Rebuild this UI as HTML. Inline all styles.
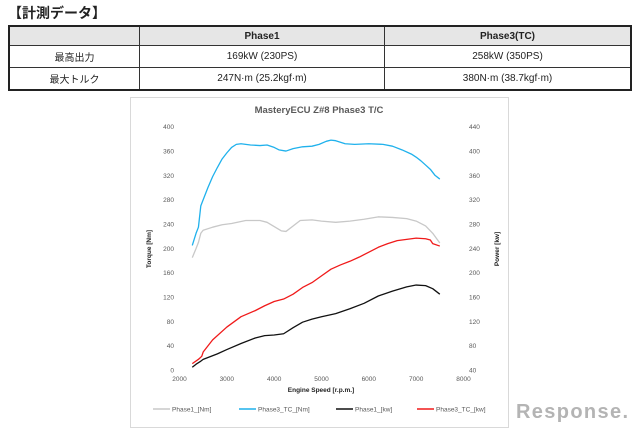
<!DOCTYPE html>
<html><head><meta charset="utf-8"><style>
body{margin:0;width:640px;height:431px;background:#fff;position:relative;overflow:hidden;font-family:"Liberation Sans","Noto Sans CJK JP",sans-serif}
.t{position:absolute;left:8px;top:3px;font-size:14px;font-weight:bold;color:#222}
table{position:absolute;left:8px;top:25px;width:624px;border-collapse:collapse;font-size:10px;color:#222}
td{border:1px solid #333;text-align:center;height:21px;padding:0}
tr.h td{background:#e6e6e6;font-weight:bold;height:18px}
table{border:2px solid #222}
</style></head><body>
<div class="t">【計測データ】</div>
<table>
<tr class="h"><td style="width:129px"></td><td style="width:244px">Phase1</td><td>Phase3(TC)</td></tr>
<tr><td>最高出力</td><td>169kW (230PS)</td><td>258kW (350PS)</td></tr>
<tr><td>最大トルク</td><td>247N·m (25.2kgf·m)</td><td>380N·m (38.7kgf·m)</td></tr>
</table>
<svg width="640" height="431" style="position:absolute;left:0;top:0" font-family="Liberation Sans, sans-serif">
<rect x="130.5" y="97.5" width="378" height="330" fill="#fff" stroke="#d9d9d9"/>
<text x="319" y="113" font-size="9.5" fill="#595959" text-anchor="middle" font-weight="bold">MasteryECU Z#8 Phase3 T/C</text>
<g font-size="6.5" fill="#595959" text-anchor="end">
<text x="174" y="372.5">0</text><text x="174" y="348">40</text><text x="174" y="324">80</text><text x="174" y="299.5">120</text><text x="174" y="275">160</text><text x="174" y="251">200</text><text x="174" y="226.5">240</text><text x="174" y="202">280</text><text x="174" y="178">320</text><text x="174" y="153.5">360</text><text x="174" y="129">400</text>
</g>
<g font-size="6.5" fill="#595959" text-anchor="start">
<text x="469" y="372.5">40</text><text x="469" y="348">80</text><text x="469" y="324">120</text><text x="469" y="299.5">160</text><text x="469" y="275">200</text><text x="469" y="251">240</text><text x="469" y="226.5">280</text><text x="469" y="202">320</text><text x="469" y="178">360</text><text x="469" y="153.5">400</text><text x="469" y="129">440</text>
</g>
<g font-size="6.5" fill="#595959" text-anchor="middle">
<text x="179.5" y="381">2000</text><text x="226.8" y="381">3000</text><text x="274.2" y="381">4000</text><text x="321.5" y="381">5000</text><text x="368.8" y="381">6000</text><text x="416.2" y="381">7000</text><text x="463.5" y="381">8000</text>
</g>
<text x="321" y="392" font-size="6.5" font-weight="bold" fill="#222" text-anchor="middle">Engine Speed [r.p.m.]</text>
<text transform="translate(151,249) rotate(-90)" font-size="6.5" font-weight="bold" fill="#222" text-anchor="middle">Torque [Nm]</text>
<text transform="translate(499,249) rotate(-90)" font-size="6.5" font-weight="bold" fill="#222" text-anchor="middle">Power [kw]</text>
<g transform="translate(179.5,370.3) scale(0.04733,-0.609)" fill="none" stroke-width="1.3" stroke-linejoin="round">
<polyline vector-effect="non-scaling-stroke" stroke="#c8c8c8" points="270,185 350,200 400,210 450,225 500,230 700,235 900,239 1100,241 1400,246 1700,246 1850,243 2000,236 2150,229 2250,228 2400,237 2550,246 2800,247 3000,245 3300,243 3600,245 3900,248 4200,252 4500,251 4800,249 5000,245 5200,237 5350,225 5500,209"/>
<polyline vector-effect="non-scaling-stroke" stroke="#1fb1ec" points="270,205 350,225 400,235 450,270 500,280 600,300 700,318 800,333 900,347 1000,357 1100,366 1200,371 1300,372 1500,370 1700,369 1850,370 2000,366 2100,362 2250,360 2400,364 2600,367 2800,368 2950,371 3100,376 3200,378 3300,377 3500,372 3700,371 4000,372 4300,371 4500,368 4700,362 4900,355 5000,350 5100,344 5200,337 5300,330 5400,320 5500,314"/>
<polyline vector-effect="non-scaling-stroke" stroke="#f01a1a" points="270,11 400,18 470,23 500,30 700,50 1000,71 1300,88 1600,98 1800,106 2000,113 2200,117 2400,125 2600,136 2800,144 3000,155 3200,166 3400,173 3600,179 3800,186 4000,194 4200,202 4400,208 4600,213 4800,215 5000,217 5200,216 5300,214 5350,208 5500,204"/>
<polyline vector-effect="non-scaling-stroke" stroke="#111" points="270,5 350,10 450,15 500,18 800,27 1000,34 1300,44 1600,53 1800,57 2000,58 2200,60 2400,70 2600,79 2800,84 3000,88 3300,93 3600,101 3900,110 4200,122 4500,130 4800,137 5000,140 5200,139 5350,134 5500,125"/>
</g>
<g font-size="6.5" fill="#595959">
<line x1="153" y1="409" x2="170" y2="409" stroke="#c8c8c8" stroke-width="1.5"/><text x="172" y="411.5">Phase1_[Nm]</text>
<line x1="239" y1="409" x2="256" y2="409" stroke="#1fb1ec" stroke-width="1.5"/><text x="258" y="411.5">Phase3_TC_[Nm]</text>
<line x1="336" y1="409" x2="353" y2="409" stroke="#111" stroke-width="1.5"/><text x="355" y="411.5">Phase1_[kw]</text>
<line x1="417" y1="409" x2="434" y2="409" stroke="#f01a1a" stroke-width="1.5"/><text x="436" y="411.5">Phase3_TC_[kw]</text>
</g>
<text x="516" y="418" font-size="20" fill="#b4b4b4" font-weight="bold" textLength="112">Response.</text>
</svg>
</body></html>
